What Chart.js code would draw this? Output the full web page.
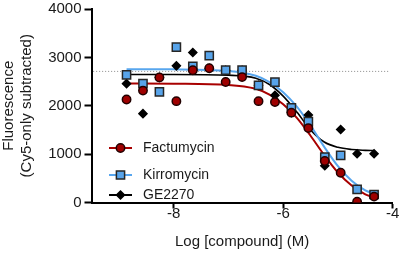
<!DOCTYPE html>
<html>
<head>
<meta charset="utf-8">
<script src="https://cdn.jsdelivr.net/npm/chart.js@4/dist/chart.umd.min.js"></script>
<style>
  html, body { margin: 0; padding: 0; background: #fff; }
  #wrap { width: 400px; height: 253px; }
</style>
</head>
<body>
<div id="wrap"><canvas id="chart" width="400" height="253"></canvas></div>
<script>
// log [compound] (M) for each well
const doses = [-8.86, -8.56, -8.26, -7.95, -7.65, -7.35, -7.05, -6.75, -6.45, -6.15, -5.85, -5.54, -5.24, -4.95, -4.65, -4.34];
const factumycin = [2130, 2313, 2586, 2095, 2735, 2776, 2490, 2592, 2095, 2075, 1857, 1538, 857, 615, 15, 122];
const kirromycin = [2637, 2460, 2286, 3211, 2815, 3035, 2735, 2735, 2422, 2490, 1955, 1673, 939, 973, 273, 165];
const ge2270 = [2457, 1837, 2586, 2825, 3102, 2776, 2735, 2735, 2422, 2215, 1857, 1810, 760, 1510, 1008, 1008];

// fitted curves
const fitX = [-8.86, -8, -7, -6.5, -6.25, -6, -5.75, -5.5, -5.25, -5, -4.75, -4.5, -4.34];
const factumycinFit = [2460, 2455, 2430, 2350, 2230, 2030, 1750, 1380, 980, 620, 350, 170, 100];
const kirromycinFit = [2755, 2752, 2720, 2620, 2490, 2280, 1980, 1590, 1150, 750, 450, 250, 180];
const ge2270Fit = [2645, 2645, 2630, 2570, 2440, 2200, 1870, 1500, 1250, 1140, 1095, 1078, 1072];

const refLevel = 2710;
const refRange = [-9.47, -4.05];

const xTicks = [-8, -6, -4];
const yTicks = [0, 1000, 2000, 3000, 4000];

const FONT = "'Liberation Sans', Arial, sans-serif";
const RED = '#a80000';
const BLUE = '#58a6ee';
const BLACK = '#000000';

const pts = (xs, ys) => xs.map((x, i) => ({ x, y: ys[i] }));

const series = [
  { label: 'Factumycin', line: RED, fill: '#9e0000', border: '#220000', style: 'circle', radius: 4.2, y: 148 },
  { label: 'Kirromycin', line: BLUE, fill: '#58a4ea', border: '#262626', style: 'rect', radius: 5.8, y: 175 },
  { label: 'GE2270', line: BLACK, fill: '#000', border: '#000', style: 'rectRot', radius: 4, y: 195 }
];

const drawMarker = (ctx, s, x, y) => {
  ctx.save();
  ctx.fillStyle = s.fill;
  ctx.strokeStyle = s.border;
  ctx.lineWidth = 1.5;
  ctx.beginPath();
  if (s.style === 'circle') {
    ctx.arc(x, y, s.radius, 0, Math.PI * 2);
  } else if (s.style === 'rect') {
    const h = s.radius * Math.SQRT1_2;
    ctx.rect(x - h, y - h, 2 * h, 2 * h);
  } else {
    const r = s.radius;
    ctx.moveTo(x, y - r); ctx.lineTo(x + r, y); ctx.lineTo(x, y + r); ctx.lineTo(x - r, y); ctx.closePath();
  }
  ctx.fill();
  ctx.stroke();
  ctx.restore();
};

const legendPlugin = {
  id: 'insideLegend',
  afterDraw(chart) {
    const { ctx } = chart;
    series.forEach((s) => {
      ctx.save();
      ctx.strokeStyle = s.line;
      ctx.lineWidth = 2;
      ctx.beginPath();
      ctx.moveTo(109, s.y);
      ctx.lineTo(132, s.y);
      ctx.stroke();
      ctx.restore();
      drawMarker(ctx, s, 120.5, s.y);
      ctx.save();
      ctx.fillStyle = '#1a1a1a';
      ctx.font = '14px ' + FONT;
      ctx.textBaseline = 'middle';
      ctx.fillText(s.label, 143, s.y);
      ctx.restore();
    });
  }
};

const pointSet = (s, ys, order) => ({
  label: s.label,
  data: pts(doses, ys),
  showLine: false,
  pointStyle: s.style,
  pointRadius: s.radius,
  pointBackgroundColor: s.fill,
  pointBorderColor: s.border,
  pointBorderWidth: 1.5,
  order
});

const fitSet = (s, ys, order, width) => ({
  label: s.label + ' fit',
  data: pts(fitX, ys),
  showLine: true,
  borderColor: s.line,
  borderWidth: width,
  pointRadius: 0,
  cubicInterpolationMode: 'monotone',
  order
});

new Chart(document.getElementById('chart'), {
  type: 'scatter',
  data: {
    datasets: [
      pointSet(series[0], factumycin, 0),
      pointSet(series[1], kirromycin, 1),
      pointSet(series[2], ge2270, 2),
      fitSet(series[0], factumycinFit, 3, 2),
      fitSet(series[1], kirromycinFit, 4, 2),
      fitSet(series[2], ge2270Fit, 5, 1.6),
      {
        label: 'reference',
        data: [{ x: refRange[0], y: refLevel }, { x: refRange[1], y: refLevel }],
        showLine: true,
        borderColor: '#8a8a8a',
        borderWidth: 1,
        borderDash: [1, 2],
        pointRadius: 0,
        order: 6
      }
    ]
  },
  options: {
    responsive: false,
    animation: false,
    devicePixelRatio: 1,
    layout: { padding: { top: 6.5, right: 5.5, left: 0, bottom: 0 } },
    plugins: { legend: { display: false }, tooltip: { enabled: false } },
    scales: {
      x: {
        type: 'linear',
        min: -9.5,
        max: -4,
        afterBuildTicks: (scale) => { scale.ticks = xTicks.map((v) => ({ value: v })); },
        afterFit: (scale) => { scale.height = 50.5; },
        border: { display: true, color: '#000', width: 2 },
        grid: { drawOnChartArea: false, drawTicks: true, tickLength: 6, tickColor: '#000', tickWidth: 2 },
        ticks: {
          color: '#1a1a1a',
          font: { family: FONT, size: 15, lineHeight: 1 },
          padding: -2,
          maxRotation: 0,
          callback: (v) => String(v)
        },
        title: {
          display: true,
          text: 'Log [compound] (M)',
          color: '#1a1a1a',
          font: { family: FONT, size: 15, lineHeight: 1.2 },
          padding: { top: 0, bottom: 2 }
        }
      },
      y: {
        min: 0,
        max: 4000,
        afterBuildTicks: (scale) => { scale.ticks = yTicks.map((v) => ({ value: v })); },
        afterFit: (scale) => { scale.width = 91.5; },
        border: { display: true, color: '#000', width: 2 },
        grid: { drawOnChartArea: false, drawTicks: true, tickLength: 7, tickColor: '#000', tickWidth: 2 },
        ticks: {
          color: '#1a1a1a',
          font: { family: FONT, size: 15, lineHeight: 0.8 },
          padding: 3,
          callback: (v) => String(v)
        },
        title: {
          display: true,
          text: ['Fluorescence', '(Cy5-only subtracted)'],
          color: '#1a1a1a',
          font: { family: FONT, size: 15, lineHeight: 1.2 },
          padding: { top: 0, bottom: 0 }
        }
      }
    }
  },
  plugins: [legendPlugin]
});
</script>
</body>
</html>
